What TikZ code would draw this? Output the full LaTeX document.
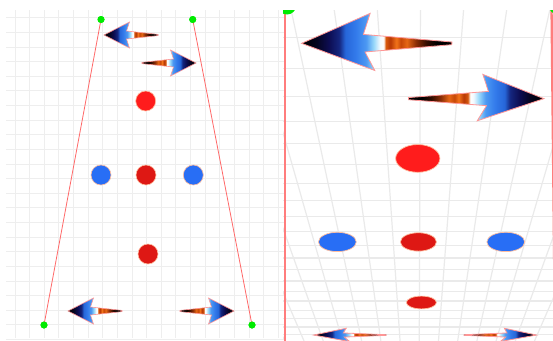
\documentclass[tikz,border=0pt]{standalone}
\usetikzlibrary{shapes.geometric}
\definecolor{gridc}{RGB}{238,238,238}
\definecolor{gridr}{RGB}{234,234,234}
\definecolor{redln}{RGB}{255,105,105}
\definecolor{redlw}{RGB}{255,125,125}
\definecolor{greenc}{RGB}{0,235,0}
\definecolor{redA}{RGB}{255,28,28}
\definecolor{redB}{RGB}{222,24,20}
\definecolor{blueA}{RGB}{40,110,245}
\definecolor{dotedge}{RGB}{255,190,160}
\definecolor{arredge}{RGB}{255,150,150}
\pgfdeclarehorizontalshading{arrowgrad}{100bp}{rgb(0bp)=(0,0,0); rgb(25bp)=(0,0,0); rgb(30bp)=(0.02,0.02,0.12); rgb(34bp)=(0.05,0.05,0.32); rgb(37.5bp)=(0.08,0.15,0.50); rgb(39.5bp)=(0.15,0.40,0.85); rgb(43bp)=(0.20,0.48,0.92); rgb(46.5bp)=(0.30,0.60,0.95); rgb(49bp)=(0.60,0.85,0.98); rgb(51bp)=(0.95,0.98,1); rgb(52.25bp)=(1,1,1); rgb(53bp)=(0.85,0.35,0.05); rgb(54.5bp)=(0.72,0.22,0.02); rgb(56.5bp)=(0.95,0.45,0.10); rgb(58bp)=(0.78,0.28,0.03); rgb(60bp)=(0.90,0.40,0.08); rgb(63bp)=(0.55,0.18,0.02); rgb(66.5bp)=(0.20,0.05,0); rgb(70bp)=(0,0,0); rgb(100bp)=(0,0,0)}
\tikzset{
  gridL/.style={draw=gridc, line width=0.9pt},
  gridR/.style={draw=gridr, line width=1.2pt},
  redside/.style={draw=redln, line width=0.8pt},
  redwide/.style={draw=redlw, line width=2.3pt},
  greendot/.style={circle, fill=greenc, inner sep=0pt, minimum size=7pt},
  greenell/.style={ellipse, fill=greenc, inner sep=0pt},
  dotstyle/.style={circle, draw=dotedge, line width=0.6pt, inner sep=0pt, minimum size=20pt},
  wdotstyle/.style={ellipse, draw=dotedge, line width=0.7pt, inner sep=0pt},
  arrowstyle/.style={draw=arredge, line width=0.6pt, shading=arrowgrad},
}
\newcommand\larrow[4]{%
  \path[arrowstyle, shading angle=#4] (#1,#2) -- ({#1+(#3)*25.5},{#2-13}) -- ({#1+(#3)*22.5},{#2-4}) -- ({#1+(#3)*54},{#2-0.6}) -- ({#1+(#3)*54},{#2+0.6}) -- ({#1+(#3)*22.5},{#2+4}) -- ({#1+(#3)*25.5},{#2+13}) -- cycle;}
\newcommand\warrow[4]{%
  \path[arrowstyle, line width=0.8pt, shading angle=#4] ({wx(#1,#2)},{wy(#2)}) -- ({wx(#1+(#3)*25.5,#2-13)},{wy(#2-13)}) -- ({wx(#1+(#3)*22.5,#2-4)},{wy(#2-4)}) -- ({wx(#1+(#3)*54,#2-0.6)},{wy(#2-0.6)}) -- ({wx(#1+(#3)*54,#2+0.6)},{wy(#2+0.6)}) -- ({wx(#1+(#3)*22.5,#2+4)},{wy(#2+4)}) -- ({wx(#1+(#3)*25.5,#2+13)},{wy(#2+13)}) -- cycle;}
\newcommand\wdot[5]{%
  \pgfmathsetmacro\wdX{wx(#2,#3)}\pgfmathsetmacro\wdY{wy(#3)}%
  \pgfmathsetmacro\wdW{2*#4*rxs(#3)}\pgfmathsetmacro\wdH{2*#4*rys(#3)}%
  \node[wdotstyle, fill=#5, minimum width=\wdW pt, minimum height=\wdH pt] (#1) at (\wdX,\wdY) {};}
\begin{document}
\begin{tikzpicture}[x=1pt, y=-1pt,
  declare function={
    tt(\b)=(\b-19)/306;
    qq(\b)=2.268*tt(\b)/(1-tt(\b)+2.268*tt(\b));
    wx(\a,\b)=285+(\a-101+57*tt(\b))/(91.7+116.3*tt(\b))*272;
    wy(\b)=6+336*qq(\b);
    rxs(\b)=272/(91.7+116.3*tt(\b));
    rys(\b)=336*2.268/(306*(1-tt(\b)+2.268*tt(\b))^2);
  }]
\useasboundingbox[fill=white] (0,0) rectangle (553,340);
% ---------- left panel ----------
\foreach \k in {0,...,18} \draw[gridL] ({15+14.63*\k},10) -- ({15+14.63*\k},338);
\foreach \k in {0,...,22} \draw[gridL] (6,{17.7+14.63*\k}) -- (284,{17.7+14.63*\k});
\node[greendot] (gTL) at (101,19.5) {};
\node[greendot] (gTR) at (192.7,19.5) {};
\node[greendot] (gBL) at (44,325) {};
\node[greendot] (gBR) at (252,325) {};
\draw[redside] (gTL.center) -- (gBL.center);
\draw[redside] (gTR.center) -- (gBR.center);
\larrow{104}{35}{1}{0}
\larrow{196}{63}{-1}{180}
\larrow{68}{311}{1}{0}
\larrow{234}{311}{-1}{180}
\node[dotstyle, fill=redA] (r1) at (145.7,101) {};
\node[dotstyle, fill=blueA] (b1) at (101,175) {};
\node[dotstyle, fill=redB] (r2) at (146,175) {};
\node[dotstyle, fill=blueA] (b2) at (193.3,175) {};
\node[dotstyle, fill=redB] (r3) at (148,254) {};
\node[greendot] at (gTL) {};
\node[greendot] at (gTR) {};
\node[greendot] at (gBL) {};
\node[greendot] at (gBR) {};
% ---------- right panel (warped) ----------
\begin{scope}
\clip (283,10) rectangle (553,340);
\foreach \k in {0,...,18} {\pgfmathsetmacro\gx{15+14.63*\k}
  \draw[gridR] ({wx(\gx,10)},{wy(10)}) -- ({wx(\gx,338)},{wy(338)});}
\foreach \k in {0,...,22} {\pgfmathsetmacro\gy{17.7+14.63*\k}
  \draw[gridR] ({wx(6,\gy)},{wy(\gy)}) -- ({wx(284,\gy)},{wy(\gy)});}
\coordinate (wTL) at (285,6);
\coordinate (wBL) at (285,342);
\coordinate (wTR) at (551.5,6);
\coordinate (wBR) at (555,342);
\draw[redwide] (wTL) -- (wBL);
\draw[redwide] (wTR) -- (wBR);
\warrow{104}{35}{1}{0}
\warrow{196}{63}{-1}{180}
\warrow{68}{311}{1}{0}
\warrow{234}{311}{-1}{180}
\wdot{wr1}{145.7}{101}{10}{redA}
\wdot{wb1}{101}{175}{10.5}{blueA}
\wdot{wr2}{146}{175}{10}{redB}
\wdot{wb2}{194.5}{175}{10.5}{blueA}
\wdot{wr3}{148}{254}{10}{redB}
\node[greenell, minimum width=18pt, minimum height=17pt] (wgTL) at (287,6) {};
\node[greenell, minimum width=18pt, minimum height=17pt] (wgTR) at (558,6) {};
\end{scope}
\end{tikzpicture}
\end{document}
